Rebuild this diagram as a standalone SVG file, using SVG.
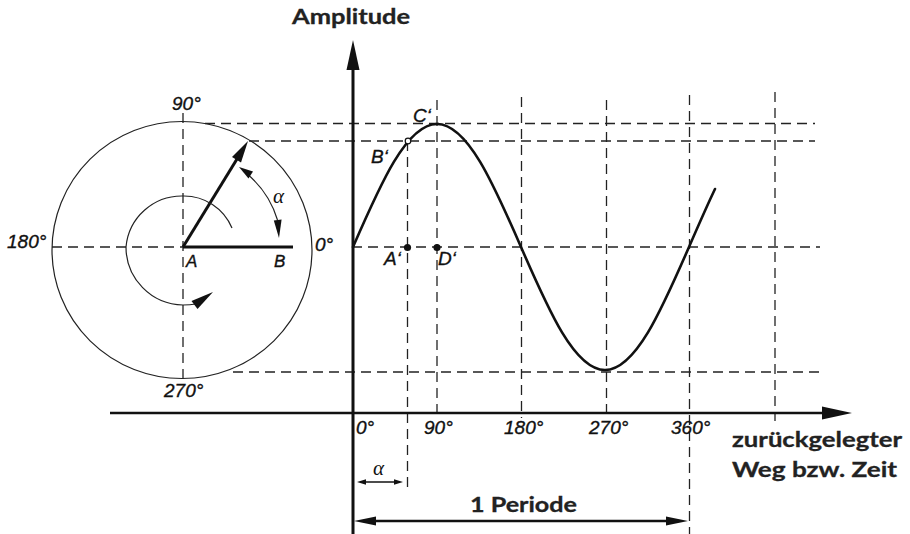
<svg xmlns="http://www.w3.org/2000/svg" width="910" height="534" viewBox="0 0 910 534">
<style>
.dash{stroke:#222;stroke-width:1.3;stroke-dasharray:10 6;fill:none}
.thin{stroke:#222;stroke-width:1.2;fill:none}
.thick{stroke:#111;stroke-width:3;fill:none}
.head{fill:#111;stroke:none}
.lbl{font-family:"Liberation Sans",Arial,sans-serif;font-style:italic;font-size:19px;fill:#111;stroke:#111;stroke-width:0.35}
.sm{font-size:17px}
.greek{font-family:"Liberation Serif","DejaVu Serif",serif;font-style:italic;font-size:21px;fill:#111}
.title{font-family:Lato,"Open Sans",sans-serif;font-weight:bold;font-size:21px;fill:#222;stroke:#222;stroke-width:0.3}
</style>
<rect width="910" height="534" fill="#fff"/>
<g id="connectors">
  <line class="dash" x1="52" y1="247" x2="183" y2="247"/>
  <line class="dash" x1="352" y1="247" x2="820" y2="247"/>
  <line class="dash" x1="183" y1="113" x2="183" y2="380"/>
  <line class="dash" x1="205" y1="123.5" x2="815" y2="123.5"/>
  <line class="dash" x1="249" y1="141" x2="815" y2="141"/>
  <line class="dash" x1="233" y1="372" x2="820" y2="372"/>
  <line class="dash" x1="407.5" y1="141" x2="407.5" y2="490"/>
  <line class="dash" x1="437" y1="100" x2="437" y2="418"/>
  <line class="dash" x1="521.5" y1="97" x2="521.5" y2="418"/>
  <line class="dash" x1="606.5" y1="100" x2="606.5" y2="418"/>
  <line class="dash" x1="689.5" y1="95" x2="689.5" y2="534"/>
  <line class="dash" x1="775" y1="92" x2="775" y2="421"/>
  <line class="thick" x1="353" y1="66" x2="353" y2="534"/>
  <polygon class="head" points="353,40 346.5,70 359.5,70"/>
  <line stroke="#111" stroke-width="2.6" x1="110" y1="413" x2="824" y2="413"/>
  <polygon class="head" points="852,413 822,406.5 822,419.5"/>
  <path d="M353,247 C380.4,184 406.6,124 437,124 C467.4,124 493.6,184 521,247 C548.4,310 574.6,370 605,370 C635.4,370 661.6,310 689,247 C697.7,227 706.4,207 715,189" fill="none" stroke="#111" stroke-width="2.6" stroke-linecap="round"/>
  <line stroke="#111" stroke-width="2.4" x1="370" y1="521" x2="670" y2="521"/>
  <polygon class="head" points="354,521 376,516.5 376,525.5"/>
  <polygon class="head" points="688,521 666,516.5 666,525.5"/>
  <line stroke="#111" stroke-width="1.4" x1="362" y1="482" x2="398" y2="482"/>
  <polygon class="head" points="357,482 366,479.2 366,484.8"/>
  <polygon class="head" points="403,482 394,479.2 394,484.8"/>
</g>
<g id="circle">
  <ellipse class="thin" cx="182" cy="250" rx="130" ry="128.5"/>
</g>
<g id="vector">
  <line class="thick" x1="183" y1="247" x2="237" y2="159"/>
  <polygon class="head" points="248,141 241,162.6 232,157"/>
  <line class="thick" x1="183" y1="247" x2="293" y2="247"/>
</g>
<g id="alpha-arc">
  <path class="thin" stroke-width="1.4" d="M246,173 A97,97 0 0 1 277.5,220"/>
  <polygon class="head" points="239,167 253,171.5 248.5,178.5"/>
  <polygon class="head" points="279,238 281.6,219.5 273.8,220.5"/>
  <text class="greek" x="273" y="203">α</text>
</g>
<g id="rotation">
  <path class="thin" d="M232,228 A52,52 0 0 0 183,196 A56,56 0 0 0 126,247 A58,58 0 0 0 183,305 Q190,305 196,304"/>
  <polygon class="head" points="213,292 197.5,309 191.5,301"/>
</g>
<g id="circle-labels">
  <text class="lbl" x="172" y="110">90°</text>
  <text class="lbl" x="7" y="248">180°</text>
  <text class="lbl" x="315" y="251">0°</text>
  <text class="lbl" x="164" y="397">270°</text>
  <text class="lbl sm" x="186" y="267">A</text>
  <text class="lbl sm" x="274" y="267">B</text>
</g>
<g id="points">
  <circle cx="408" cy="141" r="2.8" fill="#fff" stroke="#111" stroke-width="1.2"/>
  <circle cx="407.5" cy="247.5" r="3.6" fill="#111"/>
  <circle cx="437" cy="247.5" r="3.6" fill="#111"/>
  <text class="lbl" x="413" y="122">C‘</text>
  <text class="lbl" x="371" y="163">B‘</text>
  <text class="lbl" x="384" y="265">A‘</text>
  <text class="lbl" x="438" y="265">D‘</text>
</g>
<g id="axis-labels">
  <text class="lbl" x="356" y="434">0°</text>
  <text class="lbl" x="424" y="434">90°</text>
  <text class="lbl" x="504" y="434">180°</text>
  <text class="lbl" x="589" y="434">270°</text>
  <text class="lbl" x="671" y="434">360°</text>
  <text class="greek" x="373" y="475" font-size="17">α</text>
</g>
<g id="titles">
  <text class="title" x="292" y="24" textLength="118" lengthAdjust="spacingAndGlyphs">Amplitude</text>
  <text class="title" x="732" y="447" textLength="170" lengthAdjust="spacingAndGlyphs">zurückgelegter</text>
  <text class="title" x="732" y="477" textLength="165" lengthAdjust="spacingAndGlyphs">Weg bzw. Zeit</text>
  <text class="title" x="470" y="512" textLength="107" lengthAdjust="spacingAndGlyphs">1 Periode</text>
</g>
</svg>
